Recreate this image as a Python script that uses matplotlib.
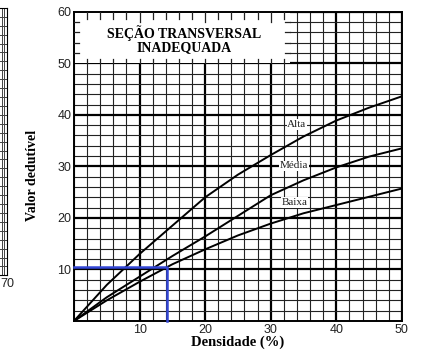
import numpy as np
import matplotlib
matplotlib.use("Agg")
import matplotlib.pyplot as plt
from matplotlib.patches import Rectangle

# densidade (%) e valores deduzidos
densidade = [0, 5, 10, 15, 20, 25, 30, 35, 40, 45, 50]
alta = [0, 7, 13, 18.5, 24, 28.4, 32.2, 35.8, 38.9, 41.4, 43.6]
media = [0, 4.6, 8.6, 12.6, 16.4, 20.4, 24.4, 27.3, 29.8, 31.9, 33.5]
baixa = [0, 4, 7.6, 11, 13.9, 16.6, 18.9, 20.9, 22.5, 24.1, 25.7]
rotulos = ["Alta", "Média", "Baixa"]
rotulo_pos = [(34.0, 38.1), (33.6, 30.1), (33.6, 23.0)]

# leitura em azul
leitura_x = 14.2
leitura_y = 10.4

titulo = "SEÇÃO TRANSVERSAL\nINADEQUADA"
serif = "Liberation Serif"
sans = "Liberation Sans"

fig = plt.figure(figsize=(4.23, 3.59), dpi=100)
ax = fig.add_axes([0.175, 0.106, 0.775, 0.861])

ax.set_xlim(0, 50)
ax.set_ylim(0, 60)
ax.set_xticks(np.arange(10, 51, 10))
ax.set_yticks(np.arange(10, 61, 10))
ax.set_xticks(np.arange(0, 51, 2), minor=True)
ax.set_yticks(np.arange(0, 61, 2), minor=True)
ax.grid(which="minor", color="#222222", lw=0.8)
ax.grid(which="major", color="black", lw=1.6)
ax.tick_params(which="both", length=0, pad=2)
for lab in ax.get_xticklabels() + ax.get_yticklabels():
    lab.set_fontfamily(sans)
    lab.set_fontsize(9)
    lab.set_color("#222222")
for s in ax.spines.values():
    s.set_linewidth(1.4)

# caixa branca do título
ax.add_patch(Rectangle((0, 50), 33, 10, facecolor="white", edgecolor="none", zorder=2))
for xt in np.arange(2, 33, 2):
    L = 1.9 if xt % 10 == 0 else 1.3
    ax.plot([xt, xt], [60, 60 - L], color="#222222", lw=0.9, zorder=3)
    ax.plot([xt, xt], [50, 50.8], color="#222222", lw=0.9, zorder=3)
for yt in np.arange(52, 60, 2):
    ax.plot([0, 0.8], [yt, yt], color="#222222", lw=0.9, zorder=3)
    ax.plot([32.2, 33], [yt, yt], color="#222222", lw=0.9, zorder=3)
ax.text(16.8, 54.6, titulo, ha="center", va="center", family=serif,
        weight="bold", fontsize=10, linespacing=0.95, zorder=4)

for serie in (alta, media, baixa):
    ax.plot(densidade, serie, color="black", lw=1.4, zorder=5)
for txt, (px, py) in zip(rotulos, rotulo_pos):
    ax.text(px, py, txt, ha="center", va="center", family=serif, fontsize=8,
            color="#222222", zorder=6,
            bbox=dict(facecolor="white", edgecolor="none", pad=0.6))

ax.plot([0, leitura_x, leitura_x], [leitura_y, leitura_y, 0], color="#3346d6",
        lw=1.8, zorder=6, clip_on=False)

ax.set_xlabel("Densidade (%)", family=serif, weight="bold", fontsize=10.5, labelpad=0)
fig.text(0.078, 0.51, "Valor dedutível", rotation=90, ha="center", va="center",
         family=serif, weight="bold", fontsize=10)

# pedaço do gráfico vizinho cortado à esquerda
ax2 = fig.add_axes([-0.2, 0.233, 0.2165, 0.745])
ax2.set_xlim(0, 70)
ax2.set_ylim(0, 60)
ax2.set_xticks([70])
ax2.set_xticklabels(["70"])
ax2.set_yticks([])
ax2.set_xticks(np.arange(0, 71, 2), minor=True)
ax2.set_yticks(np.arange(0, 61, 2), minor=True)
ax2.grid(which="minor", color="#444444", lw=0.7)
ax2.tick_params(which="both", length=0, pad=2)
for lab in ax2.get_xticklabels():
    lab.set_fontfamily(sans)
    lab.set_fontsize(9)
    lab.set_color("#222222")

fig.savefig("out.png", dpi=100)
